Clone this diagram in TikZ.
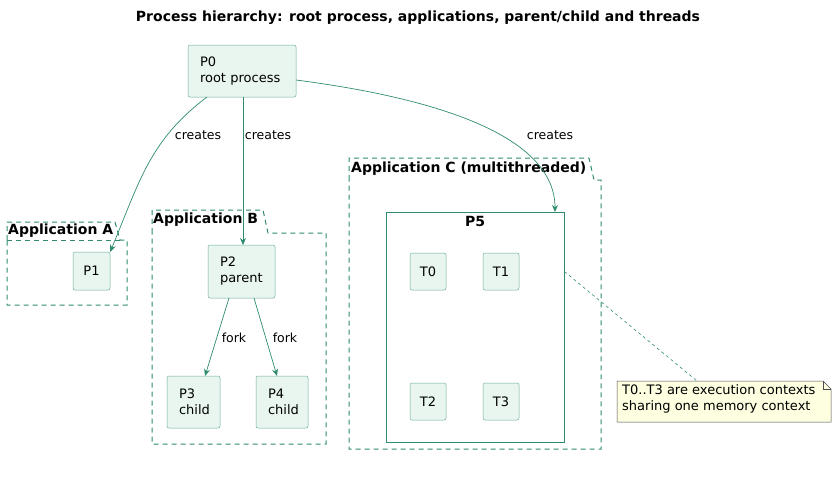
\documentclass[tikz,border=0pt]{standalone}
\usepackage{fontspec}
\setmainfont{DejaVu Sans}
\usetikzlibrary{arrows.meta}
\definecolor{gr}{HTML}{2E8B6E}
\definecolor{fl}{HTML}{E9F6EF}
\definecolor{nt}{HTML}{FEFEE0}
\begin{document}
\begin{tikzpicture}[x=1pt,y=-1pt,font=\fontsize{13}{16}\selectfont,
 proc/.style={draw=gr!70,fill=fl,rounded corners=2pt,line width=0.5pt,align=left,inner sep=0pt},
 pkg/.style={draw=gr,dashed,line width=1pt,dash pattern=on 5pt off 4pt},
 arr/.style={-{Stealth[length=7pt,width=6pt]},draw=gr,line width=0.7pt},
 lbl/.style={font=\fontsize{12.5}{15}\selectfont},
 ttl/.style={font=\bfseries\fontsize{14}{16}\selectfont}]
\useasboundingbox (0,0) rectangle (837,482);
\node[ttl] (title) at (418,18) {Process hierarchy: root process, applications, parent/child and threads};
% packages
\draw[pkg] (7,240) -- (7,222) -- (115,222) -- (120,240) -- (127,240) -- (127,305) -- (7,305) -- cycle;
\draw[pkg] (7,240) -- (120,240);
\node[anchor=west,ttl,inner sep=1pt] (la) at (7,231) {Application A};
\draw[pkg] (152,233) -- (152,210) -- (263,210) -- (268,233) -- (326,233) -- (326,444) -- (152,444) -- cycle;
\node[anchor=west,ttl,inner sep=1pt] (lb) at (152,220) {Application B};
\draw[pkg] (349,180) -- (349,158) -- (589,158) -- (594,180) -- (601,180) -- (601,449) -- (349,449) -- cycle;
\node[anchor=west,ttl,inner sep=1pt] (lc) at (350,169) {Application C (multithreaded)};
% nodes
\node[proc,minimum width=108pt,minimum height=52pt,text width=84pt] (p0) at (242,71) {P0\\root process};
\node[proc,minimum width=37pt,minimum height=38pt,align=center] (p1) at (91.5,271) {P1};
\node[proc,minimum width=67pt,minimum height=53pt,text width=43pt] (p2) at (241.5,271.5) {P2\\parent};
\node[proc,minimum width=53pt,minimum height=52pt,text width=29pt] (p3) at (193.5,402) {P3\\child};
\node[proc,minimum width=52pt,minimum height=52pt,text width=28pt] (p4) at (282,402) {P4\\child};
\node[draw=gr,line width=0.7pt,minimum width=178pt,minimum height=230pt,inner sep=0pt] (p5) at (475,327) {};
\node[ttl] (p5l) at (475,221) {P5};
\node[proc,minimum width=36pt,minimum height=37pt,align=center] (t0) at (428,271.5) {T0};
\node[proc,minimum width=36pt,minimum height=37pt,align=center] (t1) at (501,271.5) {T1};
\node[proc,minimum width=36pt,minimum height=37pt,align=center] (t2) at (428,401.5) {T2};
\node[proc,minimum width=36pt,minimum height=37pt,align=center] (t3) at (501,401.5) {T3};
% note
\draw[draw=black!70,fill=nt,line width=0.5pt] (617,381) -- (823,381) -- (831,389) -- (831,422) -- (617,422) -- cycle;
\draw[draw=black!70,line width=0.5pt] (823,381) -- (823,389) -- (831,389);
\node[anchor=north west,align=left,inner sep=0pt] (note) at (622,384) {T0..T3 are execution contexts\\sharing one memory context};
\coordinate (nt) at (697,381);
\draw[gr,dashed,line width=0.6pt] (p5.east|-t1) -- (nt);
% edges
\draw[arr] (207,97) .. controls (150,140) and (140,180) .. (p1.north east);
\node[lbl] (c1) at (198,135) {creates};
\draw[arr] (243,97) -- (243,245);
\node[lbl] (c2) at (268,135) {creates};
\draw[arr] (296,80) .. controls (450,100) and (555,140) .. (555,212);
\node[lbl] (c3) at (550,135) {creates};
\draw[arr] (229,298) -- (205,376);
\node[lbl] (f1) at (234,338) {fork};
\draw[arr] (254,298) -- (277,376);
\node[lbl] (f2) at (285,338) {fork};
\end{tikzpicture}
\end{document}
